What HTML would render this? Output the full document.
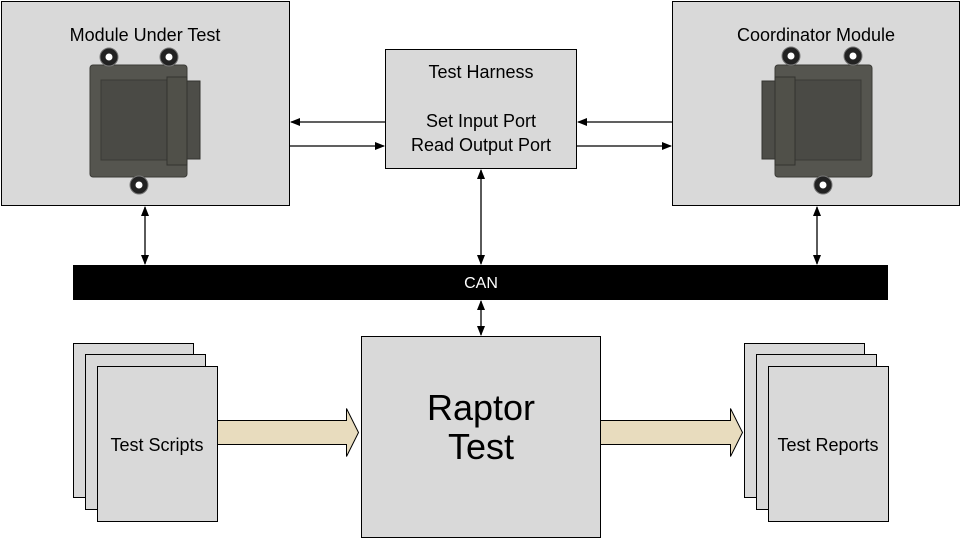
<!DOCTYPE html>
<html><head><meta charset="utf-8"><style>
html,body{margin:0;padding:0;background:#fff;}
svg{display:block;font-family:"Liberation Sans",sans-serif;}
</style></head><body>
<svg width="961" height="541" viewBox="0 0 961 541" xmlns="http://www.w3.org/2000/svg">
<defs>
<marker id="ah" markerWidth="10" markerHeight="8" refX="9" refY="4" orient="auto-start-reverse" markerUnits="userSpaceOnUse">
<path d="M0,0 L10,4 L0,8 Z" fill="#000"/>
</marker>
<g id="mod">
<rect x="0" y="0" width="97" height="112" rx="3" fill="#55554f" stroke="#3a3a36"/>
<rect x="11" y="15" width="70" height="80" fill="#4a4a45" stroke="#3a3a36"/>
<rect x="77" y="12" width="20" height="88" fill="#505049" stroke="#33332f"/>
<rect x="97" y="16" width="13" height="78" fill="#4d4d48" stroke="#33332f"/>
</g>
</defs>
<rect x="1.5" y="1.5" width="288" height="204" fill="#d9d9d9" stroke="#000"/>
<text x="145" y="41" font-size="18" text-anchor="middle">Module Under Test</text>
<use href="#mod" x="90" y="65"/>
<g fill="#222" stroke="#777" stroke-width="1"><circle cx="109" cy="57" r="9"/><circle cx="169" cy="57" r="9"/><circle cx="139" cy="185" r="9"/>
<circle cx="791" cy="56" r="9"/><circle cx="853" cy="56" r="9"/><circle cx="823" cy="185" r="9"/></g>
<g fill="#fff"><circle cx="109" cy="57" r="3.5"/><circle cx="169" cy="57" r="3.5"/><circle cx="139" cy="185" r="3.5"/>
<circle cx="791" cy="56" r="3.5"/><circle cx="853" cy="56" r="3.5"/><circle cx="823" cy="185" r="3.5"/></g>
<rect x="672.5" y="1.5" width="287" height="204" fill="#d9d9d9" stroke="#000"/>
<text x="816" y="41" font-size="18" text-anchor="middle">Coordinator Module</text>
<use href="#mod" transform="translate(872,65) scale(-1,1)"/>
<g fill="#222" stroke="#777" stroke-width="1">
<circle cx="791" cy="56" r="9"/><circle cx="853" cy="56" r="9"/><circle cx="823" cy="185" r="9"/></g>
<g fill="#fff"><circle cx="791" cy="56" r="3.5"/><circle cx="853" cy="56" r="3.5"/><circle cx="823" cy="185" r="3.5"/></g>
<rect x="385.5" y="49.5" width="191" height="119" fill="#d9d9d9" stroke="#000"/>
<text x="481" y="78" font-size="18" text-anchor="middle">Test Harness</text>
<text x="481" y="127" font-size="18" text-anchor="middle">Set Input Port</text>
<text x="481" y="151" font-size="18" text-anchor="middle">Read Output Port</text>
<g stroke="#000" stroke-width="1.3" fill="none">
<line x1="385" y1="122" x2="291" y2="122" marker-end="url(#ah)"/>
<line x1="290" y1="146" x2="384" y2="146" marker-end="url(#ah)"/>
<line x1="672" y1="122" x2="578" y2="122" marker-end="url(#ah)"/>
<line x1="577" y1="146" x2="671" y2="146" marker-end="url(#ah)"/>
<line x1="145" y1="207" x2="145" y2="264" marker-start="url(#ah)" marker-end="url(#ah)"/>
<line x1="481" y1="170" x2="481" y2="264" marker-start="url(#ah)" marker-end="url(#ah)"/>
<line x1="817" y1="207" x2="817" y2="264" marker-start="url(#ah)" marker-end="url(#ah)"/>
<line x1="481" y1="301" x2="481" y2="335" marker-start="url(#ah)" marker-end="url(#ah)"/>
</g>
<rect x="73" y="265" width="815" height="35" fill="#000"/>
<text x="481" y="288" font-size="16" fill="#fff" text-anchor="middle">CAN</text>
<g fill="#d9d9d9" stroke="#000">
<rect x="73.5" y="343.5" width="120" height="154"/>
<rect x="85.5" y="354.5" width="120" height="155"/>
<rect x="97.5" y="366.5" width="120" height="155"/>
<rect x="744.5" y="343.5" width="120" height="154"/>
<rect x="756.5" y="354.5" width="120" height="155"/>
<rect x="768.5" y="366.5" width="120" height="155"/>
<rect x="361.5" y="336.5" width="239" height="201"/>
</g>
<text x="157" y="451" font-size="18" text-anchor="middle">Test Scripts</text>
<text x="828" y="451" font-size="18" text-anchor="middle">Test Reports</text>
<text x="481" y="420" font-size="36" text-anchor="middle">Raptor</text>
<text x="481" y="459" font-size="36" text-anchor="middle">Test</text>
<path d="M217.5,420.5 H346.5 V408.5 L358.5,432.5 L346.5,456.5 V444.5 H217.5 Z" fill="#e8dcbe" stroke="#000"/>
<path d="M600.5,420.5 H730.5 V408.5 L742.5,432.5 L730.5,456.5 V444.5 H600.5 Z" fill="#e8dcbe" stroke="#000"/>
</svg>
</body></html>
